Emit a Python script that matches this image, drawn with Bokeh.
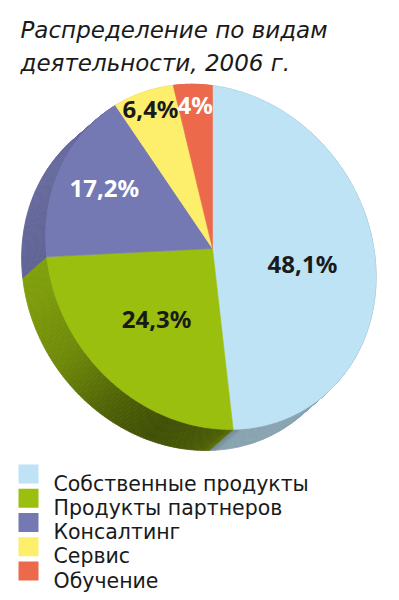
import numpy as np
from bokeh.plotting import figure
from bokeh.models import Range1d
from bokeh.embed import file_html
from bokeh.resources import INLINE
from bokeh.core.properties import value

# ---------------- data ----------------
title_lines = ["Распределение по видам", "деятельности, 2006 г."]
categories = ["Собственные продукты", "Продукты партнеров", "Консалтинг", "Сервис", "Обучение"]
shares = [48.1, 24.3, 17.2, 6.4, 4.0]
share_labels = ["48,1%", "24,3%", "17,2%", "6,4%", "4%"]

# ---------------- style ----------------
colors = ["#bde3f5", "#9abf0e", "#7478b3", "#fdee6b", "#ec6a4b"]
label_colors = ["#1a1a1a", "#1a1a1a", "#ffffff", "#1a1a1a", "#ffffff"]
label_radius = [0.55, 0.55, 0.71, 0.89, 0.87]
label_nudge_y = [10, 0, -3, 0, 0]

W, H_FIG = 399, 600
CX, CY = 212, 248                 # pie apex (screen px)
PA, PC, PD, PG, PH = 165, -20, 171, 0.01, 0.05   # perspective projection
DX, DY = -24, 21                  # extrusion (screen px, y down)
SH_A = [0, 120, 150, 190, 215, 240, 255, 268, 274, 280, 300, 360]
SH_F = [0.72, 0.9, 0.88, 0.82, 0.72, 0.5, 0.42, 0.46, 0.5, 0.72, 0.72, 0.72]


def proj(u, v):
    w = 1 + PG * u + PH * v
    return CX + PA * u / w, CY - (PC * u + PD * v) / w


def shade(hexc, f):
    r, g, b = (int(hexc[i:i + 2], 16) for i in (1, 3, 5))
    return "#%02x%02x%02x" % (int(r * f), int(g * f), int(b * f))


p = figure(width=W, height=H_FIG, x_range=Range1d(0, W), y_range=Range1d(H_FIG, 0),
           output_backend="svg", toolbar_location=None, min_border=0)
p.axis.visible = False
p.grid.visible = False
p.outline_line_color = None
p.background_fill_color = "white"
p.border_fill_color = "white"

vals = np.array(shares, dtype=float)
cum = np.concatenate([[0.0], np.cumsum(vals)]) / vals.sum()
starts = np.pi / 2 - 2 * np.pi * cum[:-1]
ends = np.pi / 2 - 2 * np.pi * cum[1:]

top_xs, top_ys = [], []
side_xs, side_ys, side_col = [], [], []
for i, (s, e) in enumerate(zip(starts, ends)):
    n = max(int(abs(e - s) / np.radians(1.0)) + 2, 3)
    th = np.linspace(s, e, n)
    x, y = proj(np.cos(th), np.sin(th))
    top_xs.append([CX] + x.tolist())
    top_ys.append([CY] + y.tolist())
    for k in range(n - 1):
        xa, ya, xb, yb = x[k], y[k], x[k + 1], y[k + 1]
        side_xs.append([xa, xb, xb + DX, xa + DX])
        side_ys.append([ya, yb, yb + DY, ya + DY])
        ang = np.degrees(np.arctan2(-((ya + yb) / 2 - (CY + 5)), (xa + xb) / 2 - CX)) % 360
        side_col.append(shade(colors[i], float(np.interp(ang, SH_A, SH_F))))

p.patches(side_xs, side_ys, fill_color=side_col, line_color=side_col, line_width=0.8)
p.patches(top_xs, top_ys, fill_color=colors, line_color=colors, line_width=0.6)

# slice labels
mids = (starts + ends) / 2
lx, ly = [], []
for m, r, ny in zip(mids, label_radius, label_nudge_y):
    x, y = proj(r * np.cos(m), r * np.sin(m))
    lx.append(float(x))
    ly.append(float(y) + ny)
p.text(x=lx, y=ly, text=share_labels, text_color=label_colors, text_font=value("Noto Sans"),
       text_font_style="bold", text_font_size="24px", text_align="center", text_baseline="middle")

# title
p.text(x=[20, 20], y=[29, 62], text=title_lines, text_color="#1a1a1a",
       text_font=value("DejaVu Sans"), text_font_style="italic", text_font_size="23px",
       text_align="left", text_baseline="alphabetic")

# legend
rows = [473.5 + 24.25 * i for i in range(len(categories))]
p.rect(x=[28] * len(categories), y=rows, width=20, height=19, fill_color=colors, line_color=None)
p.text(x=[53] * len(categories), y=[r + 9.5 for r in rows], text=categories, text_color="#1a1a1a",
       text_font=value("DejaVu Sans"), text_font_size="20.5px", text_align="left",
       text_baseline="alphabetic")

open("out.html", "w").write(file_html(p, INLINE))
